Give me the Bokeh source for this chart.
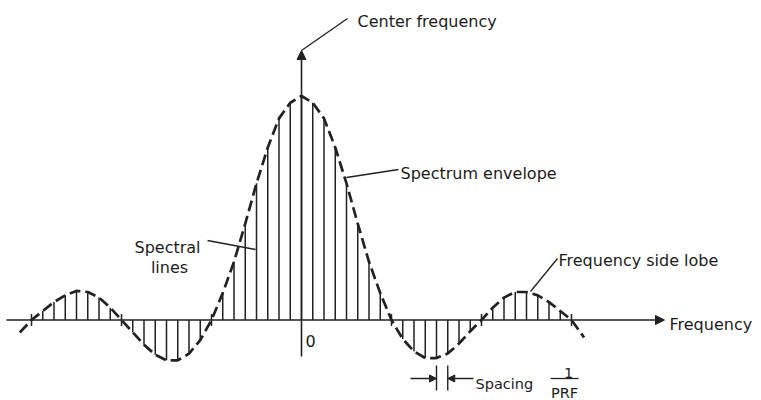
from bokeh.plotting import figure
from bokeh.models import Range1d, Arrow, NormalHead
from bokeh.core.properties import value
from bokeh.embed import file_html
from bokeh.resources import INLINE

# ---------------- data ----------------
# spectral line positions (frequency, in units of the first envelope null)
line_freq = [-3.0, -2.875, -2.75, -2.625, -2.5, -2.375, -2.25, -2.125,
             -2.0, -1.875, -1.75, -1.625, -1.5, -1.375, -1.25, -1.125,
             -1.0, -0.875, -0.75, -0.625, -0.5, -0.375, -0.25, -0.125,
             0.0,
             0.125, 0.25, 0.375, 0.5, 0.625, 0.75, 0.875, 1.0,
             1.125, 1.25, 1.375, 1.5, 1.625, 1.75, 1.875, 2.0,
             2.125, 2.25, 2.375, 2.5, 2.625, 2.75, 2.875, 3.0]
# spectral line heights (relative to the peak)
line_amp = [0.0, 0.04, 0.08, 0.11, 0.13, 0.125, 0.10, 0.055,
            0.0, -0.055, -0.11, -0.155, -0.18, -0.18, -0.15, -0.09,
            0.0, 0.12, 0.26, 0.43, 0.61, 0.77, 0.90, 0.97,
            1.0,
            0.97, 0.90, 0.77, 0.61, 0.43, 0.26, 0.12, 0.0,
            -0.085, -0.14, -0.17, -0.17, -0.15, -0.105, -0.05, 0.0,
            0.055, 0.10, 0.125, 0.125, 0.11, 0.08, 0.04, 0.0]
# envelope ends beyond the outer nulls
env_left_end = (-3.13, -0.056)
env_right_end = (3.14, -0.078)

label_center = "Center frequency"
label_envelope = "Spectrum envelope"
label_lines = ["Spectral", "lines"]
label_sidelobe = "Frequency side lobe"
label_axis = "Frequency"
label_zero = "0"
label_spacing = "Spacing"
label_frac_num = "1"
label_frac_den = "PRF"

# ---------------- layout helpers (reference pixel -> data) ----------------
CX, XS = 301.0, 90.0      # pixel of f=0, pixels per frequency unit
BY, YS = 319.5, 224.0     # pixel of baseline, pixels per amplitude unit
OX, OY = 0, 0             # page offset of the figure


def fx(px):
    return (px - CX) / XS


def ay(py):
    return (BY - py) / YS


W, H = 761, 400
p = figure(width=W, height=H, output_backend="svg", toolbar_location=None,
           x_range=Range1d(fx(OX), fx(OX + W)), y_range=Range1d(ay(OY + H), ay(OY)),
           x_axis_type=None, y_axis_type=None, min_border=0)
p.grid.visible = False
p.outline_line_color = None
p.background_fill_color = "white"
p.border_fill_color = "white"

INK = "#222222"
TXT = "#1c1c1c"

# spectral lines
nz_x = [f for f, a in zip(line_freq, line_amp) if a != 0.0]
nz_a = [a for a in line_amp if a != 0.0]
p.segment(x0=nz_x, y0=[0] * len(nz_x), x1=nz_x, y1=nz_a,
          line_color=INK, line_width=1.5)
# small ticks at the nulls
z_x = [f for f, a in zip(line_freq, line_amp) if a == 0.0]
p.segment(x0=z_x, y0=[ay(BY + 6)] * len(z_x), x1=z_x, y1=[ay(BY - 6)] * len(z_x),
          line_color=INK, line_width=1.5)

# dashed envelope
env_f = [env_left_end[0]] + line_freq + [env_right_end[0]]
env_a = [env_left_end[1]] + line_amp + [env_right_end[1]]
p.line(env_f, env_a, line_color=INK, line_width=2.7, line_dash="11 5")

# axes with arrows
p.add_layout(Arrow(end=NormalHead(size=9, fill_color=INK, line_color=INK),
                   x_start=fx(6), y_start=0, x_end=fx(664), y_end=0,
                   line_color=INK, line_width=1.6))
p.add_layout(Arrow(end=NormalHead(size=9, fill_color=INK, line_color=INK),
                   x_start=0, y_start=ay(356), x_end=0, y_end=ay(50),
                   line_color=INK, line_width=1.6))

# leader lines
p.segment(x0=[0, fx(346), fx(207), fx(530)],
          y0=[ay(50), ay(177), ay(240), ay(291)],
          x1=[fx(347), fx(398), fx(255), fx(557)],
          y1=[ay(18), ay(169), ay(249), ay(258)],
          line_color=INK, line_width=1.3)

# spacing markers (between two adjacent spectral lines)
s0, s1 = line_freq[36], line_freq[37]
p.segment(x0=[s0, s1], y0=[ay(365), ay(365)], x1=[s0, s1], y1=[ay(390), ay(390)],
          line_color=INK, line_width=1.4)
p.add_layout(Arrow(end=NormalHead(size=7, fill_color=INK, line_color=INK),
                   x_start=fx(410), y_start=ay(378), x_end=s0, y_end=ay(378),
                   line_color=INK, line_width=1.4))
p.add_layout(Arrow(end=NormalHead(size=7, fill_color=INK, line_color=INK),
                   x_start=fx(473), y_start=ay(378), x_end=s1, y_end=ay(378),
                   line_color=INK, line_width=1.4))
# fraction bar
p.segment(x0=[fx(550)], y0=[ay(378)], x1=[fx(578)], y1=[ay(378)],
          line_color=INK, line_width=1.3)

FONT = value("DejaVu Sans")


def txt(x, y, t, size="16px", align="left"):
    p.text(x=[x], y=[y], text=[t], text_font=FONT, text_font_size=value(size),
           text_color=TXT, text_align=align, text_baseline="alphabetic")


txt(fx(357), ay(21), label_center)
txt(fx(400), ay(173), label_envelope)
txt(fx(167), ay(247), label_lines[0], align="center")
txt(fx(169), ay(267), label_lines[1], align="center")
txt(fx(558), ay(260), label_sidelobe)
txt(fx(669), ay(324), label_axis)
txt(fx(305), ay(340), label_zero)
txt(fx(475), ay(383), label_spacing, size="14.5px")
txt(fx(568), ay(372), label_frac_num, size="14.5px", align="center")
txt(fx(564), ay(392), label_frac_den, size="14.5px", align="center")

open("out.html", "w").write(file_html(p, INLINE))
